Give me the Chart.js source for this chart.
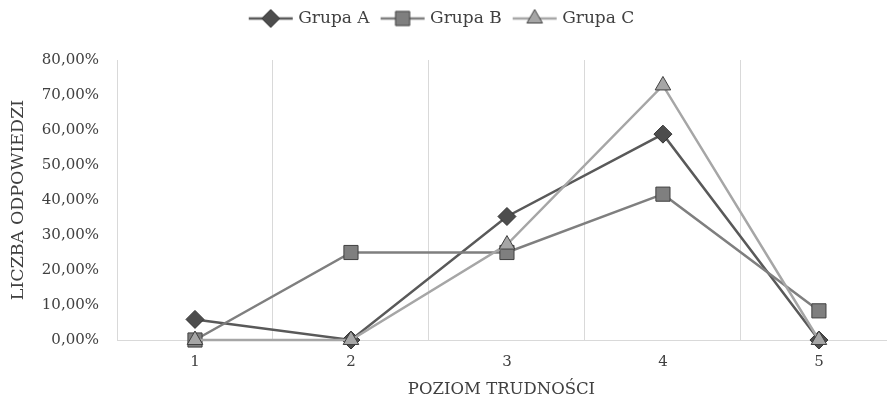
<!DOCTYPE html>
<html lang="pl">
<head>
    <meta charset="UTF-8">
    <script src="https://cdn.jsdelivr.net/npm/chart.js"></script>
    <title>poziom trudnosci</title>
    <style>
        body {
            margin: 0;
            background: #ffffff;
        }
        .wrap {
            width: 887px;
            height: 401px;
        }
    </style>
</head>
<body>
    <div class="wrap">
        <canvas id="chart" width="887" height="401"></canvas>
    </div>

    <script>
        // dane (procent odpowiedzi)
        const levels = [1, 2, 3, 4, 5];
        const grupaA = [5.88, 0, 35.29, 58.82, 0];
        const grupaB = [0, 25, 25, 41.67, 8.33];
        const grupaC = [0, 0, 27.27, 72.73, 0];
        const seriesNames = ['Grupa A', 'Grupa B', 'Grupa C'];
        const yTicks = [0, 10, 20, 30, 40, 50, 60, 70, 80];

        const font = 'DejaVu Serif';
        const textColor = '#404040';
        const gridColor = '#d9d9d9';

        function toPoints(values) {
            return levels.map((lvl, i) => ({ x: lvl, y: values[i] }));
        }

        function pct(v) {
            return v.toFixed(2).replace('.', ',') + '%';
        }

        // rysuje znacznik serii (romb, kwadrat, trojkat)
        function drawMarker(ctx, style, x, y, r) {
            ctx.beginPath();
            if (style === 'rectRot') {
                ctx.moveTo(x, y - r);
                ctx.lineTo(x + r, y);
                ctx.lineTo(x, y + r);
                ctx.lineTo(x - r, y);
            } else if (style === 'rect') {
                const s = r * Math.SQRT1_2;
                ctx.rect(x - s, y - s, 2 * s, 2 * s);
            } else {
                ctx.moveTo(x, y - r);
                ctx.lineTo(x + r * Math.sin(Math.PI / 3), y + r * 0.5);
                ctx.lineTo(x - r * Math.sin(Math.PI / 3), y + r * 0.5);
            }
            ctx.closePath();
            ctx.fill();
            ctx.stroke();
        }

        // ikona do legendy: linia + znacznik
        function legendIcon(ds) {
            const c = document.createElement('canvas');
            c.width = 46;
            c.height = 22;
            const ctx = c.getContext('2d');
            ctx.strokeStyle = ds.borderColor;
            ctx.lineWidth = ds.borderWidth;
            ctx.beginPath();
            ctx.moveTo(1, 11);
            ctx.lineTo(45, 11);
            ctx.stroke();
            ctx.fillStyle = ds.pointBackgroundColor;
            ctx.strokeStyle = ds.pointBorderColor;
            ctx.lineWidth = 1;
            drawMarker(ctx, ds.pointStyle, 23, 11, ds.pointRadius);
            return c;
        }

        const datasets = [
            {
                label: seriesNames[0],
                data: toPoints(grupaA),
                borderColor: '#595959',
                borderWidth: 2.5,
                pointStyle: 'rectRot',
                pointRadius: 9,
                pointBackgroundColor: '#4d4d4d',
                pointBorderColor: '#333333',
                pointBorderWidth: 1,
                order: 3
            },
            {
                label: seriesNames[1],
                data: toPoints(grupaB),
                borderColor: '#7f7f7f',
                borderWidth: 2.5,
                pointStyle: 'rect',
                pointRadius: 10,
                pointBackgroundColor: '#7f7f7f',
                pointBorderColor: '#404040',
                pointBorderWidth: 1,
                order: 2
            },
            {
                label: seriesNames[2],
                data: toPoints(grupaC),
                borderColor: '#a6a6a6',
                borderWidth: 2.5,
                pointStyle: 'triangle',
                pointRadius: 9,
                pointBackgroundColor: '#a6a6a6',
                pointBorderColor: '#404040',
                pointBorderWidth: 1,
                order: 1
            }
        ];
        datasets.forEach(ds => {
            ds.tension = 0;
            ds.fill = false;
            ds.clip = false;
            ds.pointHoverRadius = ds.pointRadius;
        });

        const ctx = document.getElementById('chart').getContext('2d');
        new Chart(ctx, {
            type: 'line',
            data: { datasets: datasets },
            options: {
                responsive: false,
                animation: false,
                layout: {
                    autoPadding: false,
                    padding: { left: 0, right: 1, top: -4, bottom: 0 }
                },
                plugins: {
                    tooltip: { enabled: false },
                    legend: {
                        position: 'top',
                        labels: {
                            usePointStyle: true,
                            pointStyleWidth: 38,
                            padding: 14,
                            color: textColor,
                            font: { family: font, size: 17 },
                            generateLabels: chart => chart.data.datasets.map((ds, i) => ({
                                text: ds.label,
                                pointStyle: legendIcon(ds),
                                fillStyle: ds.borderColor,
                                strokeStyle: ds.borderColor,
                                lineWidth: 0,
                                fontColor: textColor,
                                datasetIndex: i,
                                hidden: false
                            }))
                        }
                    }
                },
                scales: {
                    x: {
                        type: 'linear',
                        position: 'bottom',
                        min: 0.5,
                        max: 5.43,
                        afterBuildTicks: s => { s.ticks = levels.map(v => ({ value: v })); },
                        afterFit: s => { s.height = 61; },
                        grid: { display: false, drawTicks: false },
                        border: { display: true, color: gridColor, width: 1 },
                        ticks: {
                            padding: 13,
                            color: textColor,
                            font: { family: font, size: 15 },
                            callback: v => String(v)
                        },
                        title: {
                            display: true,
                            text: 'POZIOM TRUDNOŚCI',
                            color: textColor,
                            font: { family: font, size: 16.5 },
                            padding: { top: 4, bottom: 1 }
                        }
                    },
                    xGrid: {
                        type: 'linear',
                        position: 'top',
                        min: 0.5,
                        max: 5.43,
                        afterBuildTicks: s => { s.ticks = levels.map(v => ({ value: v - 0.5 })); },
                        afterFit: s => { s.height = 23; },
                        grid: { display: true, color: gridColor, lineWidth: 1, drawTicks: false },
                        border: { display: false },
                        ticks: { display: false }
                    },
                    y: {
                        min: 0,
                        max: 80,
                        afterBuildTicks: s => { s.ticks = yTicks.map(v => ({ value: v })); },
                        afterFit: s => { s.width = 117; },
                        grid: { display: false, drawTicks: false },
                        border: { display: false },
                        ticks: {
                            padding: 18,
                            color: textColor,
                            font: { family: font, size: 15 },
                            callback: v => pct(v)
                        },
                        title: {
                            display: true,
                            text: 'LICZBA ODPOWIEDZI',
                            color: textColor,
                            font: { family: font, size: 17.5 },
                            padding: { top: 8, bottom: 0 }
                        }
                    }
                }
            }
        });
    </script>
</body>
</html>
